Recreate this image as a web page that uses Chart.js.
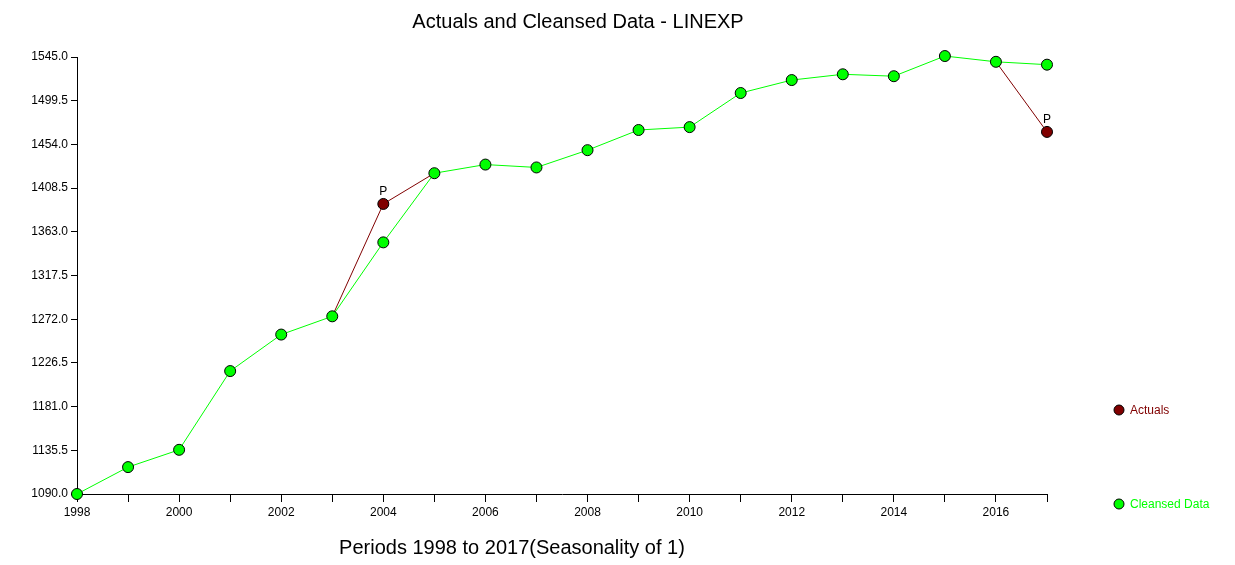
<!DOCTYPE html>
<html>
<head>
<meta charset="utf-8">
<script src="https://cdn.jsdelivr.net/npm/chart.js@4"></script>
<style>
  html, body { margin: 0; padding: 0; background: #fff; }
  #wrap { width: 1235px; height: 565px; }
</style>
</head>
<body>
<div id="wrap"><canvas id="chart"></canvas></div>
<script>
// data
const years = [1998, 1999, 2000, 2001, 2002, 2003, 2004, 2005, 2006, 2007,
               2008, 2009, 2010, 2011, 2012, 2013, 2014, 2015, 2016, 2017];
const cleansed = [1090, 1118, 1136, 1218, 1256, 1275, 1352, 1424, 1433, 1430,
                  1448, 1469, 1472, 1507.5, 1521, 1527, 1525, 1546, 1540, 1537];
const actuals = [1090, 1118, 1136, 1218, 1256, 1275, 1392, 1424, 1433, 1430,
                 1448, 1469, 1472, 1507.5, 1521, 1527, 1525, 1546, 1540, 1467];
const flagged = [2004, 2017]; // points marked "P"
const yTicks = [1090.0, 1135.5, 1181.0, 1226.5, 1272.0, 1317.5, 1363.0, 1408.5, 1454.0, 1499.5, 1545.0];

const FONT = 'Arial, "Liberation Sans", sans-serif';
const same = i => actuals[i] === cleansed[i];

// title, axis title, P labels and legend
const textPlugin = {
  id: 'texts',
  afterDraw(chart) {
    const ctx = chart.ctx;
    ctx.save();
    ctx.fillStyle = '#000';
    ctx.textAlign = 'center';
    ctx.textBaseline = 'middle';
    ctx.font = '20px ' + FONT;
    ctx.fillText('Actuals and Cleansed Data - LINEXP', 578, 22);
    ctx.fillText('Periods 1998 to 2017(Seasonality of 1)', 512, 548);

    // P labels above the actual points that differ
    ctx.font = '12px ' + FONT;
    const meta = chart.getDatasetMeta(1);
    flagged.forEach(yr => {
      const pt = meta.data[years.indexOf(yr)];
      ctx.fillText('P', pt.x, pt.y - 12);
    });

    // legend
    const items = [
      { label: 'Actuals', color: '#800000', y: 410 },
      { label: 'Cleansed Data', color: '#00ff00', y: 504 }
    ];
    ctx.textAlign = 'left';
    items.forEach(it => {
      ctx.beginPath();
      ctx.arc(1119, it.y, 5, 0, Math.PI * 2);
      ctx.fillStyle = it.color;
      ctx.fill();
      ctx.lineWidth = 1;
      ctx.strokeStyle = '#000';
      ctx.stroke();
      ctx.fillStyle = it.color;
      ctx.fillText(it.label, 1130, it.y + 1);
    });
    ctx.restore();
  }
};

new Chart(document.getElementById('chart'), {
  type: 'line',
  data: {
    datasets: [
      {
        label: 'Cleansed Data',
        data: years.map((y, i) => ({ x: y, y: cleansed[i] })),
        borderColor: '#00ff00',
        backgroundColor: '#00ff00',
        pointBorderColor: '#000',
        pointBorderWidth: 1,
        pointRadius: 5.5,
        borderWidth: 1,
        order: 0
      },
      {
        label: 'Actuals',
        data: years.map((y, i) => ({ x: y, y: actuals[i] })),
        borderColor: '#800000',
        backgroundColor: '#800000',
        pointBorderColor: '#000',
        pointBorderWidth: 1,
        pointRadius: c => (same(c.dataIndex) ? 0 : 5.5),
        borderWidth: 1,
        segment: {
          borderColor: c => (same(c.p0DataIndex) && same(c.p1DataIndex) ? 'rgba(0,0,0,0)' : '#800000')
        },
        order: 1
      }
    ]
  },
  options: {
    responsive: true,
    maintainAspectRatio: false,
    animation: false,
    clip: false,
    layout: { padding: { top: 57, right: 188, left: 0, bottom: 0 } },
    plugins: { legend: { display: false }, tooltip: { enabled: false }, title: { display: false } },
    scales: {
      x: {
        type: 'linear',
        min: 1998,
        max: 2017,
        afterBuildTicks: s => { s.ticks = years.map(v => ({ value: v })); },
        afterFit: s => { s.height = 71; },
        ticks: {
          autoSkip: false,
          maxRotation: 0,
          color: '#000',
          font: { family: FONT, size: 12 },
          padding: 3,
          callback: v => (v % 2 === 0 ? String(v) : '')
        },
        grid: { drawOnChartArea: false, tickLength: 8, color: '#000' },
        border: { color: '#000', width: 1 }
      },
      y: {
        min: 1090,
        max: 1545,
        afterBuildTicks: s => { s.ticks = yTicks.map(v => ({ value: v })); },
        afterFit: s => { s.width = 77; },
        ticks: {
          color: '#000',
          font: { family: FONT, size: 12 },
          padding: 3,
          callback: v => Number(v).toFixed(1)
        },
        grid: { drawOnChartArea: false, tickLength: 6, color: '#000' },
        border: { color: '#000', width: 1 }
      }
    }
  },
  plugins: [textPlugin]
});
</script>
</body>
</html>
